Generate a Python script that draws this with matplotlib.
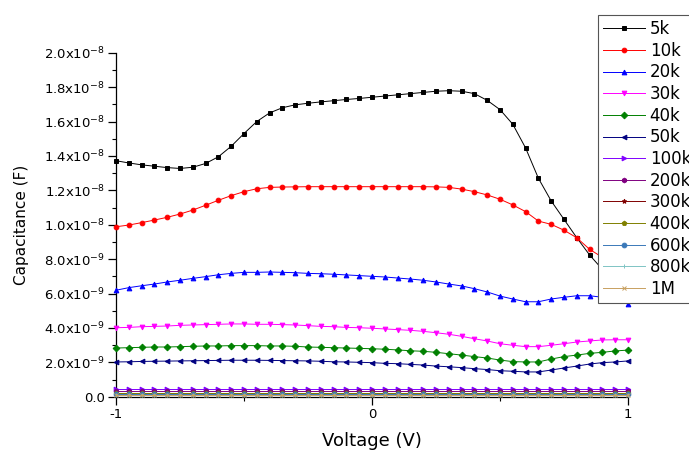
import numpy as np
import matplotlib
matplotlib.use("Agg")
import matplotlib.pyplot as plt
from matplotlib.ticker import FixedLocator

plt.rcParams['font.family'] = ['DejaVu Sans']
plt.rcParams['mathtext.fontset'] = 'dejavusans'
plt.rcParams['axes.unicode_minus'] = False

voltage = np.linspace(-1.0, 1.0, 41)

# capacitance values in units of 1e-8 F
c_5k = [1.372, 1.359, 1.348, 1.340, 1.332, 1.327, 1.334, 1.356, 1.395, 1.456,
        1.530, 1.600, 1.650, 1.680, 1.697, 1.706, 1.714, 1.721, 1.728, 1.734,
        1.741, 1.748, 1.755, 1.762, 1.769, 1.776, 1.779, 1.776, 1.762, 1.723,
        1.669, 1.584, 1.446, 1.270, 1.138, 1.031, 0.924, 0.824, 0.740, 0.670, 0.620]
c_10k = [0.988, 0.998, 1.012, 1.027, 1.043, 1.062, 1.085, 1.113, 1.142, 1.169,
         1.192, 1.209, 1.217, 1.219, 1.220, 1.221, 1.221, 1.221, 1.221, 1.221,
         1.221, 1.221, 1.221, 1.221, 1.221, 1.220, 1.217, 1.207, 1.192, 1.173,
         1.148, 1.115, 1.076, 1.021, 1.002, 0.968, 0.924, 0.857, 0.810, 0.780, 0.750]
c_20k = [0.619, 0.634, 0.645, 0.655, 0.667, 0.677, 0.688, 0.698, 0.709, 0.717,
         0.723, 0.723, 0.725, 0.723, 0.721, 0.717, 0.715, 0.712, 0.708, 0.704,
         0.700, 0.696, 0.690, 0.684, 0.677, 0.667, 0.655, 0.644, 0.628, 0.609,
         0.585, 0.568, 0.552, 0.552, 0.568, 0.578, 0.587, 0.587, 0.578, 0.560, 0.539]
c_30k = [0.401, 0.403, 0.407, 0.409, 0.411, 0.415, 0.417, 0.419, 0.421, 0.423,
         0.423, 0.421, 0.421, 0.419, 0.417, 0.413, 0.409, 0.407, 0.403, 0.401,
         0.398, 0.394, 0.390, 0.386, 0.380, 0.372, 0.363, 0.351, 0.337, 0.324,
         0.308, 0.299, 0.291, 0.291, 0.299, 0.308, 0.318, 0.324, 0.330, 0.331, 0.331]
c_40k = [0.283, 0.285, 0.287, 0.289, 0.289, 0.291, 0.293, 0.295, 0.295, 0.297,
         0.297, 0.297, 0.295, 0.295, 0.293, 0.289, 0.287, 0.285, 0.283, 0.281,
         0.279, 0.276, 0.272, 0.267, 0.264, 0.258, 0.250, 0.242, 0.233, 0.225,
         0.213, 0.204, 0.202, 0.202, 0.219, 0.233, 0.242, 0.252, 0.258, 0.266, 0.271]
c_50k = [0.202, 0.203, 0.205, 0.206, 0.207, 0.208, 0.209, 0.210, 0.211, 0.212,
         0.212, 0.212, 0.211, 0.210, 0.209, 0.208, 0.206, 0.203, 0.202, 0.200,
         0.198, 0.194, 0.192, 0.188, 0.184, 0.178, 0.174, 0.169, 0.163, 0.158,
         0.151, 0.148, 0.144, 0.144, 0.155, 0.167, 0.178, 0.190, 0.198, 0.202, 0.208]
c_100k = [0.046, 0.046, 0.046, 0.046, 0.046, 0.046, 0.046, 0.046, 0.046, 0.046,
          0.046, 0.046, 0.046, 0.046, 0.046, 0.046, 0.046, 0.046, 0.046, 0.046,
          0.046, 0.046, 0.046, 0.046, 0.046, 0.046, 0.046, 0.046, 0.046, 0.046,
          0.046, 0.046, 0.046, 0.046, 0.046, 0.046, 0.046, 0.046, 0.046, 0.046, 0.046]
c_200k = [0.032, 0.032, 0.032, 0.032, 0.032, 0.032, 0.032, 0.032, 0.032, 0.032,
          0.032, 0.032, 0.032, 0.032, 0.032, 0.032, 0.032, 0.032, 0.032, 0.032,
          0.032, 0.032, 0.032, 0.032, 0.032, 0.032, 0.032, 0.032, 0.032, 0.032,
          0.032, 0.032, 0.032, 0.032, 0.032, 0.032, 0.032, 0.032, 0.032, 0.032, 0.032]
c_300k = [0.024, 0.024, 0.024, 0.024, 0.024, 0.024, 0.024, 0.024, 0.024, 0.024,
          0.024, 0.024, 0.024, 0.024, 0.024, 0.024, 0.024, 0.024, 0.024, 0.024,
          0.024, 0.024, 0.024, 0.024, 0.024, 0.024, 0.024, 0.024, 0.024, 0.024,
          0.024, 0.024, 0.024, 0.024, 0.024, 0.024, 0.024, 0.024, 0.024, 0.024, 0.024]
c_400k = [0.019, 0.019, 0.019, 0.019, 0.019, 0.019, 0.019, 0.019, 0.019, 0.019,
          0.019, 0.019, 0.019, 0.019, 0.019, 0.019, 0.019, 0.019, 0.019, 0.019,
          0.019, 0.019, 0.019, 0.019, 0.019, 0.019, 0.019, 0.019, 0.019, 0.019,
          0.019, 0.019, 0.019, 0.019, 0.019, 0.019, 0.019, 0.019, 0.019, 0.019, 0.019]
c_600k = [0.014, 0.014, 0.014, 0.014, 0.014, 0.014, 0.014, 0.014, 0.014, 0.014,
          0.014, 0.014, 0.014, 0.014, 0.014, 0.014, 0.014, 0.014, 0.014, 0.014,
          0.014, 0.014, 0.014, 0.014, 0.014, 0.014, 0.014, 0.014, 0.014, 0.014,
          0.014, 0.014, 0.014, 0.014, 0.014, 0.014, 0.014, 0.014, 0.014, 0.014, 0.014]
c_800k = [0.011, 0.011, 0.011, 0.011, 0.011, 0.011, 0.011, 0.011, 0.011, 0.011,
          0.011, 0.011, 0.011, 0.011, 0.011, 0.011, 0.011, 0.011, 0.011, 0.011,
          0.011, 0.011, 0.011, 0.011, 0.011, 0.011, 0.011, 0.011, 0.011, 0.011,
          0.011, 0.011, 0.011, 0.011, 0.011, 0.011, 0.011, 0.011, 0.011, 0.011, 0.011]
c_1M = [0.009, 0.009, 0.009, 0.009, 0.009, 0.009, 0.009, 0.009, 0.009, 0.009,
        0.009, 0.009, 0.009, 0.009, 0.009, 0.009, 0.009, 0.009, 0.009, 0.009,
        0.009, 0.009, 0.009, 0.009, 0.009, 0.009, 0.009, 0.009, 0.009, 0.009,
        0.009, 0.009, 0.009, 0.009, 0.009, 0.009, 0.009, 0.009, 0.009, 0.009, 0.009]

series_labels = ['5k', '10k', '20k', '30k', '40k', '50k', '100k', '200k',
                 '300k', '400k', '600k', '800k', '1M']
series_values = [c_5k, c_10k, c_20k, c_30k, c_40k, c_50k, c_100k, c_200k,
                 c_300k, c_400k, c_600k, c_800k, c_1M]
colors = ['#000000', '#ff0000', '#0000ff', '#ff00ff', '#008000', '#000080',
          '#8000ff', '#800080', '#800000', '#808000', '#3a78b8', '#7fc4c4', '#c8a060']
markers = ['s', 'o', '^', 'v', 'D', '<', '>', 'h', '*', 'p', 'o', '|', 'x']

ytick_values = [0.0, 0.2, 0.4, 0.6, 0.8, 1.0, 1.2, 1.4, 1.6, 1.8, 2.0]
ytick_labels = ['0.0', '2.0x10$^{-9}$', '4.0x10$^{-9}$', '6.0x10$^{-9}$',
                '8.0x10$^{-9}$', '1.0x10$^{-8}$', '1.2x10$^{-8}$', '1.4x10$^{-8}$',
                '1.6x10$^{-8}$', '1.8x10$^{-8}$', '2.0x10$^{-8}$']
xtick_values = [-1, 0, 1]
xtick_labels = ['-1', '0', '1']

W, H = 689, 451
fig = plt.figure(figsize=(W / 100, H / 100), dpi=100)
ax = fig.add_axes([116 / W, 54.3 / H, 512 / W, 344 / H])

for vals, lab, col, mk in zip(series_values, series_labels, colors, markers):
    ax.plot(voltage, np.array(vals) * 1e-8, color=col, lw=0.7, marker=mk,
            markersize=3.4, markeredgewidth=0.7, label=lab, clip_on=False, zorder=3)

ax.set_xlim(-1, 1)
ax.set_ylim(0, 2.0e-8)
ax.set_xticks(xtick_values)
ax.set_xticklabels(xtick_labels, fontsize=9.5)
ax.xaxis.set_minor_locator(FixedLocator([-0.5, 0.5]))
ax.set_yticks([v * 1e-8 for v in ytick_values])
ax.set_yticklabels(ytick_labels, fontsize=9.5)
ax.yaxis.set_minor_locator(FixedLocator([v * 1e-8 for v in
                                         [0.1, 0.3, 0.5, 0.7, 0.9, 1.1, 1.3, 1.5, 1.7, 1.9]]))
ax.tick_params(which='major', direction='out', length=6, width=0.9, pad=2, colors='black')
ax.tick_params(which='minor', direction='out', length=3, width=0.8)
for s in ['top', 'right']:
    ax.spines[s].set_visible(False)
for s in ['left', 'bottom']:
    ax.spines[s].set_linewidth(0.9)

ax.set_xlabel('Voltage (V)', fontsize=13, labelpad=8)
ax.set_ylabel('Capacitance (F)', fontsize=11, labelpad=11)

leg = ax.legend(loc='upper left', bbox_to_anchor=(598 / W, 1 - 15 / H),
                bbox_transform=fig.transFigure, borderaxespad=0, fontsize=12,
                frameon=True, fancybox=False, edgecolor='#555555', framealpha=1,
                numpoints=1, handlelength=2.5, handletextpad=0.3,
                labelspacing=0.22, borderpad=0.3)
leg.get_frame().set_linewidth(0.8)
leg.set_zorder(10)

fig.savefig('out.png', dpi=100)
